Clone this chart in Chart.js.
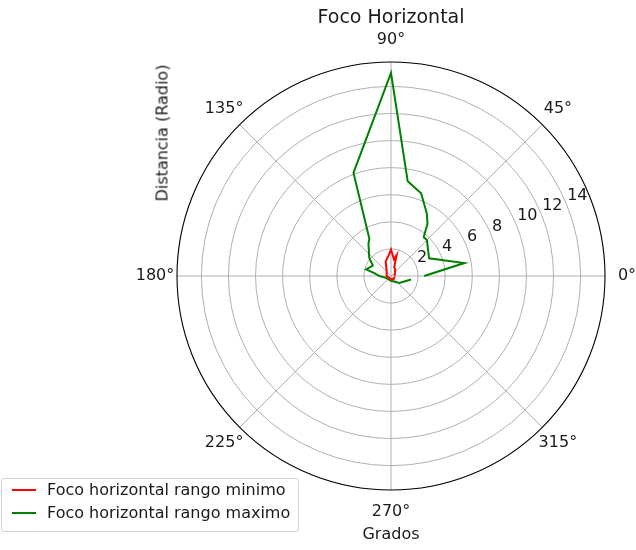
<!DOCTYPE html>
<html>
<head>
<meta charset="utf-8">
<script src="https://cdn.jsdelivr.net/npm/chart.js@4.4.1/dist/chart.umd.min.js"></script>
<style>
  body { margin: 0; background: #fff; font-family: "DejaVu Sans", sans-serif; color: #1a1a1a; }
  #wrap { position: relative; width: 636px; height: 550px; overflow: hidden; }
  #polar { position: absolute; left: 0; top: 0; }
  .txt { position: absolute; white-space: nowrap; }
  #title { left: 191px; width: 400px; top: 4px; line-height: 24px; font-size: 19px; text-align: center; }
  #ylab { left: 162px; top: 133px; font-size: 16px; transform: translate(-50%, -50%) rotate(-90deg); }
  #xlab { left: 391px; top: 533px; font-size: 16px; transform: translate(-50%, -50%); }
  #legend { position: absolute; left: 1px; top: 478px; width: 296px; height: 52px; border: 1px solid #d4d4d4; border-radius: 3px; background: rgba(255,255,255,0.8); }
  .row { position: absolute; left: 0; height: 22px; font-size: 16px; line-height: 22px; }
  .row .sw { position: absolute; left: 10px; top: 10px; width: 24px; height: 2px; }
  .row span { position: absolute; left: 45px; top: 0; white-space: nowrap; }
</style>
</head>
<body>
<div id="wrap">
  <canvas id="polar" width="636" height="550"></canvas>
  <div class="txt" id="title">Foco Horizontal</div>
  <div class="txt" id="ylab">Distancia (Radio)</div>
  <div class="txt" id="xlab">Grados</div>
  <div id="legend">
    <div class="row" style="top:0px"><div class="sw" style="background:#ff0000"></div><span>Foco horizontal rango minimo</span></div>
    <div class="row" style="top:23px"><div class="sw" style="background:#008000"></div><span>Foco horizontal rango maximo</span></div>
  </div>
</div>
<script>
// measured points, angle in degrees (0 = right, counter-clockwise) and distance
const minAngles = [0, 30, 60, 70, 75, 80, 90, 95, 110, 130, 180, 240, 300, 350];
const minRadii  = [0.25, 0.35, 0.6, 0.7, 1.6, 1.25, 1.95, 1.6, 1.15, 0.5, 0.3, 0.2, 0.3, 0.3];

const maxAngles = [0, 10, 25, 45, 50, 55, 60, 70, 80, 90, 110, 120, 125, 140, 150, 165, 170, 180, 200, 270, 320, 350];
const maxRadii  = [2.45, 5.5, 3.1, 3.75, 3.75, 4.7, 5.3, 6.5, 7.1, 15.0, 8.1, 3.2, 2.9, 2.1, 1.55, 1.9, 1.25, 0.85, 0.4, 0.35, 0.8, 1.5];

const angleTicks = [0, 45, 90, 135, 180, 225, 270, 315];
const radiusTicks = [2, 4, 6, 8, 10, 12, 14];
const rMax = 15.8;

// radar slots every 5 degrees, clockwise starting at 350 so the open end sits between 350 and 0
const STEP = 5;
const FIRST = 350;
const slotAngles = [];
for (let i = 0; i < 360 / STEP; i++) {
  slotAngles.push(((FIRST - i * STEP) % 360 + 360) % 360);
}

function toSlots(angles, radii) {
  return slotAngles.map(a => {
    const k = angles.indexOf(a);
    return k === -1 ? null : radii[k];
  });
}

// matplotlib-style polar plots are open lines, radar closes them by default
const openLines = {
  id: 'openLines',
  afterDatasetsUpdate(chart) {
    chart.data.datasets.forEach((ds, i) => {
      const line = chart.getDatasetMeta(i).dataset;
      if (!line) return;
      line._loop = false;
      line._fullLoop = false;
      delete line._segments;
      line._path = undefined;
    });
  }
};

function anglePos(scale, deg, dist) {
  const a = deg * Math.PI / 180;
  return { x: scale.xCenter + Math.cos(a) * dist, y: scale.yCenter - Math.sin(a) * dist };
}

const polarDecor = {
  id: 'polarDecor',
  beforeDatasetsDraw(chart) {
    const scale = chart.scales.r;
    const ctx = chart.ctx;
    ctx.save();
    // outer spine
    ctx.beginPath();
    ctx.arc(scale.xCenter, scale.yCenter, scale.drawingArea, 0, Math.PI * 2);
    ctx.strokeStyle = '#000';
    ctx.lineWidth = 1.1;
    ctx.stroke();

    ctx.fillStyle = '#1a1a1a';
    ctx.font = '16px "DejaVu Sans", sans-serif';
    // angle labels
    ctx.textAlign = 'center';
    ctx.textBaseline = 'middle';
    angleTicks.forEach(a => {
      const p = anglePos(scale, a, scale.drawingArea + 22);
      ctx.fillText(a + '°', p.x, p.y);
    });
    // radius labels along 22.5 deg
    ctx.textAlign = 'left';
    radiusTicks.forEach(v => {
      const p = anglePos(scale, 22.5, scale.getDistanceFromCenterForValue(v));
      ctx.fillText(String(v), p.x + 1, p.y - 8);
    });
    ctx.restore();
  }
};

new Chart(document.getElementById('polar'), {
  type: 'radar',
  data: {
    labels: slotAngles,
    datasets: [
      {
        label: 'Foco horizontal rango minimo',
        data: toSlots(minAngles, minRadii),
        borderColor: '#ff0000',
        borderWidth: 2,
        fill: false,
        spanGaps: true,
        tension: 0,
        pointRadius: 0,
        pointHoverRadius: 0
      },
      {
        label: 'Foco horizontal rango maximo',
        data: toSlots(maxAngles, maxRadii),
        borderColor: '#008000',
        borderWidth: 2,
        fill: false,
        spanGaps: true,
        tension: 0,
        pointRadius: 0,
        pointHoverRadius: 0
      }
    ]
  },
  options: {
    responsive: false,
    animation: false,
    layout: { padding: { left: 177, right: 31, top: 62, bottom: 60 } },
    plugins: { legend: { display: false }, tooltip: { enabled: false } },
    scales: {
      r: {
        min: 0,
        max: rMax,
        startAngle: 90 + (360 - FIRST),
        ticks: { stepSize: 2, display: false, includeBounds: false },
        grid: { circular: true, color: '#b0b0b0', lineWidth: 1 },
        angleLines: {
          color: '#b0b0b0',
          lineWidth: ctx => (slotAngles[ctx.index] % 45 === 0 ? 1 : 0)
        },
        pointLabels: { display: false }
      }
    }
  },
  plugins: [openLines, polarDecor]
});
</script>
</body>
</html>
